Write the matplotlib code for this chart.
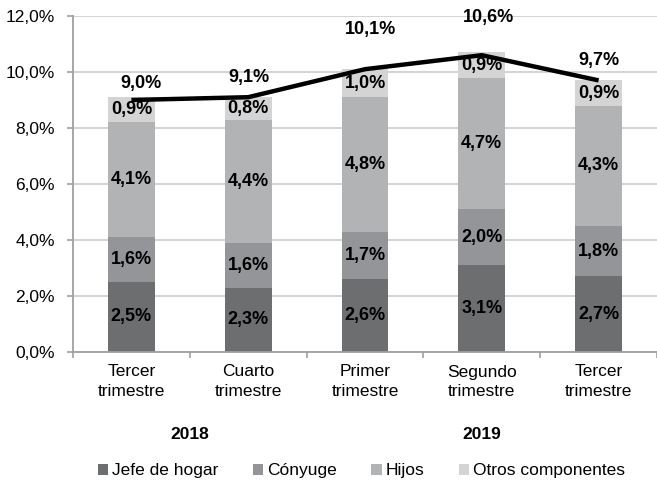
import matplotlib
matplotlib.use("Agg")
import matplotlib.pyplot as plt
import numpy as np

plt.rcParams['font.family'] = ['Liberation Sans', 'DejaVu Sans']

# Data
categories = ["Tercer\ntrimestre", "Cuarto\ntrimestre", "Primer\ntrimestre",
              "Segundo\ntrimestre", "Tercer\ntrimestre"]
years = ["2018", "2019"]
jefe = [2.5, 2.3, 2.6, 3.1, 2.7]
conyuge = [1.6, 1.6, 1.7, 2.0, 1.8]
hijos = [4.1, 4.4, 4.8, 4.7, 4.3]
otros = [0.9, 0.8, 1.0, 0.9, 0.9]
total = [9.0, 9.1, 10.1, 10.6, 9.7]
series_names = ["Jefe de hogar", "Cónyuge", "Hijos", "Otros componentes"]

colors = ["#6d6e70", "#939598", "#b1b3b4", "#d4d4d4"]
# manual offsets (pixels) of the total labels, as placed in the original
total_offsets = [(10, 17), (1, 20), (6, 40), (7, 38), (0, 20)]

W, H = 657, 482
fig = plt.figure(figsize=(W / 100, H / 100), dpi=100)
ax = fig.add_axes([73 / W, (H - 352) / H, (W - 73) / W, (352 - 16) / H])

x = np.arange(len(categories))
bottom = np.zeros(len(categories))
for vals, name, c in zip([jefe, conyuge, hijos, otros], series_names, colors):
    vals = np.array(vals)
    ax.bar(x, vals, 0.4, bottom=bottom, color=c, label=name, zorder=2)
    for xi, b, v in zip(x, bottom, vals):
        ax.text(xi, b + v / 2, f"{v:.1f}%".replace(".", ","), ha="center",
                va="center", fontsize=13, fontweight="bold", zorder=4)
    bottom = bottom + vals

ax.plot(x, total, color="black", lw=3.2, zorder=3, solid_capstyle="butt")
for xi, t, off in zip(x, total, total_offsets):
    ax.annotate(f"{t:.1f}%".replace(".", ","), (xi, t), xytext=off,
                textcoords="offset pixels", ha="center", va="center",
                fontsize=13, fontweight="bold")

ax.set_ylim(0, 12)
ax.set_xlim(-0.5, -0.5 + (W - 73) / 119)
ax.set_yticks(np.arange(0, 12.1, 2))
ax.set_yticklabels([f"{v:.1f}%".replace(".", ",") for v in np.arange(0, 12.1, 2)])
ax.set_xticks(x)
ax.set_xticklabels(categories, linespacing=1.35)
ax.set_xticks(np.arange(-0.5, 5, 1), minor=True)
ax.tick_params(axis="x", which="major", length=0, labelsize=12.5, pad=9)
ax.tick_params(axis="x", which="minor", length=4, color="#a0a0a0", width=1.2)
ax.tick_params(axis="y", length=4, color="#a0a0a0", width=1.2, labelsize=12.5,
               pad=9)
ax.yaxis.grid(True, color="#d0d0d0", lw=1.3, zorder=0)
ax.set_axisbelow(True)
for s in ["top", "right"]:
    ax.spines[s].set_visible(False)
for s in ["left", "bottom"]:
    ax.spines[s].set_color("#a0a0a0")
    ax.spines[s].set_linewidth(1.3)

# year labels
ax.text(0.5, -0.245, years[0], transform=ax.get_xaxis_transform(), ha="center",
        va="center", fontsize=12.5, fontweight="bold")
ax.text(3, -0.245, years[1], transform=ax.get_xaxis_transform(), ha="center",
        va="center", fontsize=12.5, fontweight="bold")

fig.legend(loc="center", bbox_to_anchor=(0.55, 1 - 471 / H), ncol=4,
           frameon=False, fontsize=12.5, handlelength=0.6, handleheight=0.6,
           handletextpad=0.2, columnspacing=2.0)

fig.savefig("out.png", dpi=100)
